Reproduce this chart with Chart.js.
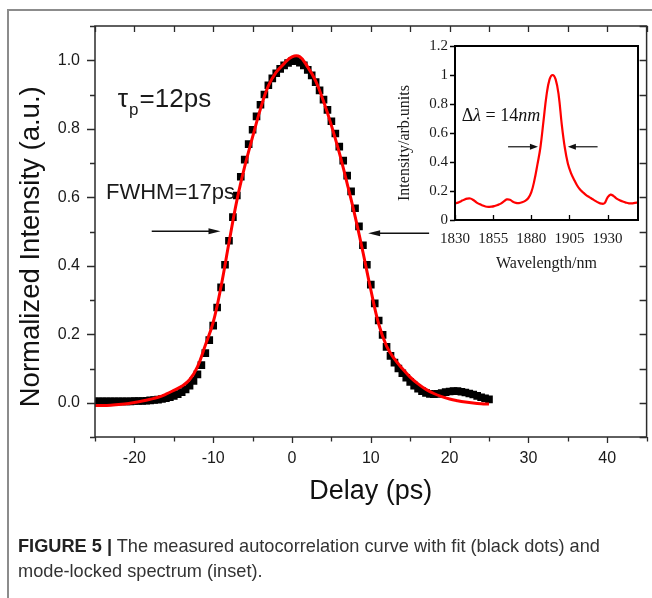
<!DOCTYPE html>
<html><head><meta charset="utf-8">
<script src="https://cdn.jsdelivr.net/npm/chart.js@4.4.1/dist/chart.umd.min.js"></script>
<style>
html,body{margin:0;padding:0;background:#fff;width:652px;height:598px;overflow:hidden;}
#frame{position:absolute;left:7px;top:9px;width:700px;height:700px;border-left:2px solid #8c8c8c;border-top:2px solid #8c8c8c;}
#main{position:absolute;left:0;top:0;}
#inset{position:absolute;left:380px;top:30px;}
#caption{position:absolute;left:18px;top:534px;font-family:"Liberation Sans",Arial,sans-serif;font-size:18.2px;line-height:25px;color:#333;white-space:nowrap;}
#caption b{color:#222;}
</style></head><body>
<div id="frame"></div>
<canvas id="main" width="652" height="598"></canvas>
<canvas id="inset" width="270" height="250"></canvas>
<div id="caption"><b>FIGURE 5 |</b> The measured autocorrelation curve with fit (black dots) and<br>mode-locked spectrum (inset).</div>
<script>
// ---------- data: autocorrelation (black squares) ----------
const delay = [
 -25,-24.5,-24,-23.5,-23,-22.5,-22,-21.5,-21,-20.5,
 -20,-19.5,-19,-18.5,-18,-17.5,-17,-16.5,-16,-15.5,
 -15,-14.5,-14,-13.5,-13,-12.5,-12,-11.5,-11,-10.5,
 -10,-9.5,-9,-8.5,-8,-7.5,-7,-6.5,-6,-5.5,
 -5,-4.5,-4,-3.5,-3,-2.5,-2,-1.5,-1,-0.5,
 0,0.5,1,1.5,2,2.5,3,3.5,4,4.5,
 5,5.5,6,6.5,7,7.5,8,8.5,9,9.5,
 10,10.5,11,11.5,12,12.5,13,13.5,14,14.5,
 15,15.5,16,16.5,17,17.5,18,18.5,19,19.5,
 20,20.5,21,21.5,22,22.5,23,23.5,24,24.5,25
];
const autocorr = [
 0.004,0.004,0.004,0.004,0.004,0.004,0.004,0.004,0.004,0.004,
 0.005,0.005,0.005,0.006,0.007,0.008,0.009,0.011,0.013,0.016,
 0.020,0.025,0.031,0.039,0.050,0.064,0.083,0.110,0.145,0.183,
 0.225,0.278,0.337,0.403,0.473,0.542,0.605,0.660,0.710,0.755,
 0.797,0.836,0.870,0.900,0.927,0.947,0.962,0.975,0.985,0.992,
 0.997,0.998,0.993,0.985,0.972,0.956,0.936,0.912,0.885,0.855,
 0.822,0.786,0.748,0.707,0.663,0.617,0.568,0.515,0.460,0.403,
 0.345,0.290,0.240,0.198,0.163,0.137,0.117,0.100,0.086,0.073,
 0.061,0.050,0.041,0.034,0.029,0.026,0.025,0.026,0.028,0.031,
 0.033,0.034,0.034,0.032,0.030,0.027,0.024,0.020,0.016,0.013,0.010
];
// ---------- fit (red line) ----------
const fitDelay = [
 -25,-24,-23,-22,-21,-20,-19,-18,-17,-16,-15,-14,-13,-12,-11,-10,-9,-8,-7,-6,-5,-4,-3,-2,-1,
 0,1,2,3,4,5,6,7,8,9,10,11,12,13,14,15,16,17,18,19,20,21,22,23,24,25
];
const fitValues = [
 -0.008,-0.008,-0.007,-0.005,-0.003,0.001,0.005,0.010,0.016,0.025,0.036,0.048,0.067,0.105,0.168,0.235,0.340,0.467,0.590,0.690,0.776,0.858,0.925,0.965,0.990,
 1.010,1.010,0.980,0.940,0.880,0.810,0.730,0.640,0.545,0.440,0.330,0.230,0.165,0.128,0.100,0.075,0.055,0.039,0.027,0.018,0.011,0.006,0.002,-0.001,-0.003,-0.004
];
const xTicks = [-20,-10,0,10,20,30,40];
const yTicks = [0.0,0.2,0.4,0.6,0.8,1.0];

// ---------- inset: spectrum ----------
const wavelength = [
 1830,1832,1834,1836,1838,1840,1842,1844,1846,1848,
 1850,1852,1854,1856,1858,1860,1862,1864,1866,1868,
 1870,1872,1874,1876,1878,1880,1882,1884,1886,1888,
 1890,1892,1894,1896,1898,1900,1902,1904,1906,1908,
 1910,1912,1914,1916,1918,1920,1922,1924,1926,1928,
 1930,1932,1934,1936,1938,1940,1942,1944,1946,1948,1950
];
const spectrum = [
 0.115,0.120,0.130,0.140,0.147,0.148,0.138,0.122,0.110,0.100,
 0.093,0.091,0.092,0.097,0.104,0.113,0.128,0.142,0.140,0.126,
 0.118,0.117,0.122,0.132,0.150,0.190,0.270,0.380,0.500,0.680,
 0.860,0.970,1.000,0.970,0.860,0.660,0.500,0.390,0.325,0.280,
 0.240,0.210,0.190,0.172,0.158,0.145,0.132,0.120,0.113,0.115,
 0.155,0.175,0.165,0.148,0.136,0.127,0.120,0.115,0.115,0.118,0.120
];
const insetXTicks = [1830,1855,1880,1905,1930];
const insetYTicks = [0,0.2,0.4,0.6,0.8,1,1.2];
const insetYLabels = ['0','0.2','0.4','0.6','0.8','1','1.2'];

// ---------- styles / annotation anchors ----------
const FONT = '"Liberation Sans", Arial, sans-serif';
const SERIF = '"Liberation Serif", "Times New Roman", serif';
const RED = '#ff0000';

function arrow(ctx, x1, y1, x2, y2, len, half) {
  const ang = Math.atan2(y2 - y1, x2 - x1);
  const bx = x2 - len * Math.cos(ang), by = y2 - len * Math.sin(ang);
  ctx.beginPath(); ctx.moveTo(x1, y1); ctx.lineTo(bx + 1 * Math.cos(ang), by + 1 * Math.sin(ang)); ctx.stroke();
  ctx.beginPath(); ctx.moveTo(x2, y2);
  ctx.lineTo(bx - half * Math.sin(ang), by + half * Math.cos(ang));
  ctx.lineTo(bx + half * Math.sin(ang), by - half * Math.cos(ang));
  ctx.closePath(); ctx.fill();
}

const mainDecor = {
  id: 'mainDecor',
  afterDraw(chart) {
    const {ctx, chartArea: a} = chart;
    const xs = chart.scales.x, ys = chart.scales.y;
    ctx.save();
    ctx.strokeStyle = '#2b2b2b'; ctx.lineWidth = 1.5;
    ctx.strokeRect(a.left, a.top, a.right - a.left, a.bottom - a.top);
    ctx.lineWidth = 1.3;
    ctx.beginPath();
    for (let i = 0; i <= 14; i++) {
      const v = xs.min + i * 5;
      const p = Math.round(xs.getPixelForValue(v)) + 0.5;
      const major = (v % 10 === 0);
      ctx.moveTo(p, a.bottom); ctx.lineTo(p, a.bottom + (major ? 6 : 4.5));
      ctx.moveTo(p, a.top); ctx.lineTo(p, a.top + 6);
    }
    for (let i = 0; i <= 12; i++) {
      const v = ys.min + i * 0.1;
      const p = Math.round(ys.getPixelForValue(v)) + 0.5;
      const major = (i % 2 === 1);
      ctx.moveTo(a.left, p); ctx.lineTo(a.left - (major ? 8 : 5), p);
      ctx.moveTo(a.right, p); ctx.lineTo(a.right - 7, p);
    }
    ctx.stroke();
    // arrows
    ctx.strokeStyle = '#111'; ctx.fillStyle = '#111'; ctx.lineWidth = 1.5;
    arrow(ctx, xs.getPixelForValue(-17.8), ys.getPixelForValue(0.501), xs.getPixelForValue(-9.07), ys.getPixelForValue(0.501), 12, 3);
    arrow(ctx, xs.getPixelForValue(17.4), ys.getPixelForValue(0.495), xs.getPixelForValue(9.66), ys.getPixelForValue(0.495), 12, 3);
    // texts
    ctx.fillStyle = '#1a1a1a'; ctx.textBaseline = 'alphabetic'; ctx.textAlign = 'left';
    let tx = xs.getPixelForValue(-22.1), ty = ys.getPixelForValue(0.863);
    ctx.font = '26px ' + FONT;
    ctx.fillText('τ', tx, ty);
    let w = ctx.measureText('τ').width;
    ctx.font = '17px ' + FONT;
    ctx.fillText('p', tx + w + 1, ty + 8);
    const wp = ctx.measureText('p').width;
    ctx.font = '26px ' + FONT;
    ctx.fillText('=12ps', tx + w + wp + 2, ty);
    ctx.font = '22px ' + FONT;
    ctx.fillText('FWHM=17ps', xs.getPixelForValue(-23.6), ys.getPixelForValue(0.594));
    ctx.restore();
  }
};

new Chart(document.getElementById('main'), {
  type: 'scatter',
  data: {
    datasets: [
      {
        label: 'Fit', order: 0,
        data: fitDelay.map((x, i) => ({x, y: fitValues[i]})),
        showLine: true, borderColor: RED, borderWidth: 3, pointRadius: 0, tension: 0.4, fill: false
      },
      {
        label: 'Autocorrelation', order: 1,
        data: delay.map((x, i) => ({x, y: autocorr[i]})),
        showLine: false, pointStyle: 'rect', pointRadius: 5.4, pointBorderWidth: 0,
        pointBackgroundColor: '#000', backgroundColor: '#000', borderColor: '#000'
      }
    ]
  },
  options: {
    responsive: false, animation: false, devicePixelRatio: 1,
    layout: {padding: {left: 0, right: 2, top: 26, bottom: 0}},
    plugins: {legend: {display: false}, tooltip: {enabled: false}},
    scales: {
      x: {
        type: 'linear', position: 'bottom', min: -25, max: 45,
        afterBuildTicks: s => { s.ticks = xTicks.map(v => ({value: v})); },
        afterFit: s => { s.height = 161; },
        grid: {display: false, drawTicks: false}, border: {display: false},
        ticks: {padding: 12, color: '#1a1a1a', font: {family: FONT, size: 16}, maxRotation: 0, autoSkip: false,
                callback: v => String(v)},
        title: {display: true, text: 'Delay (ps)', color: '#111', font: {family: FONT, size: 27}, padding: {top: 0, bottom: 90}}
      },
      y: {
        type: 'linear', min: -0.1, max: 1.1,
        afterBuildTicks: s => { s.ticks = yTicks.map(v => ({value: v})); },
        afterFit: s => { s.width = 95; },
        grid: {display: false, drawTicks: false}, border: {display: false},
        ticks: {padding: 15, color: '#1a1a1a', font: {family: FONT, size: 16}, autoSkip: false,
                callback: v => Number(v).toFixed(1)},
        title: {display: true, text: 'Normalized Intensity (a.u.)    ', color: '#111', font: {family: FONT, size: 27.5}, padding: {top: 15, bottom: 0}}
      }
    }
  },
  plugins: [mainDecor]
});

const insetDecor = {
  id: 'insetDecor',
  afterDraw(chart) {
    const {ctx, chartArea: a} = chart;
    const xs = chart.scales.x, ys = chart.scales.y;
    ctx.save();
    ctx.strokeStyle = '#000'; ctx.lineWidth = 2;
    ctx.strokeRect(a.left, a.top, a.right - a.left, a.bottom - a.top);
    ctx.lineWidth = 1.3;
    ctx.beginPath();
    insetYTicks.forEach(v => { const p = Math.round(ys.getPixelForValue(v)) + 0.5; ctx.moveTo(a.left, p); ctx.lineTo(a.left - 5, p); });
    insetXTicks.forEach(v => { const p = Math.round(xs.getPixelForValue(v)) + 0.5; ctx.moveTo(p, a.bottom); ctx.lineTo(p, a.bottom - 5); });
    ctx.stroke();
    ctx.strokeStyle = '#111'; ctx.fillStyle = '#111'; ctx.lineWidth = 1.2;
    arrow(ctx, xs.getPixelForValue(1864.8), ys.getPixelForValue(0.505), xs.getPixelForValue(1884.4), ys.getPixelForValue(0.505), 8, 3);
    arrow(ctx, xs.getPixelForValue(1923.5), ys.getPixelForValue(0.505), xs.getPixelForValue(1904.0), ys.getPixelForValue(0.505), 8, 3);
    // Δλ = 14nm
    let tx = xs.getPixelForValue(1834.4); const ty = ys.getPixelForValue(0.682);
    ctx.fillStyle = '#111'; ctx.textBaseline = 'alphabetic'; ctx.textAlign = 'left';
    const parts = [['Δ', ''], ['λ', 'italic '], [' = ', ''], ['14', ''], ['nm', 'italic ']];
    parts.forEach(([t, st]) => { ctx.font = st + '18px ' + SERIF; ctx.fillText(t, tx, ty); tx += ctx.measureText(t).width; });
    ctx.restore();
  }
};

new Chart(document.getElementById('inset'), {
  type: 'scatter',
  data: {
    datasets: [{
      label: 'Spectrum',
      data: wavelength.map((x, i) => ({x, y: spectrum[i]})),
      showLine: true, borderColor: RED, borderWidth: 2.2, pointRadius: 0, tension: 0.4, fill: false
    }]
  },
  options: {
    responsive: false, animation: false, devicePixelRatio: 1,
    layout: {padding: {left: 0, right: 12, top: 14, bottom: 0}},
    plugins: {legend: {display: false}, tooltip: {enabled: false}},
    scales: {
      x: {
        type: 'linear', position: 'bottom', min: 1830, max: 1950,
        afterBuildTicks: s => { s.ticks = insetXTicks.map(v => ({value: v})); },
        afterFit: s => { s.height = 60; },
        grid: {display: false, drawTicks: false}, border: {display: false},
        ticks: {padding: 10, color: '#1a1a1a', font: {family: SERIF, size: 15}, maxRotation: 0, autoSkip: false,
                callback: v => String(v)},
        title: {display: true, text: 'Wavelength/nm', color: '#1a1a1a', font: {family: SERIF, size: 16}, padding: {top: 0, bottom: 7}}
      },
      y: {
        type: 'linear', min: 0, max: 1.2,
        afterBuildTicks: s => { s.ticks = insetYTicks.map(v => ({value: v})); },
        afterFit: s => { s.width = 75; },
        grid: {display: false, drawTicks: false}, border: {display: false},
        ticks: {padding: 7, color: '#1a1a1a', font: {family: SERIF, size: 15}, autoSkip: false,
                callback: (v, i) => insetYLabels[i]},
        title: {display: true, text: 'Intensity/arb.units     ', color: '#1a1a1a', font: {family: SERIF, size: 16}, padding: {top: 15, bottom: 0}}
      }
    }
  },
  plugins: [insetDecor]
});
</script>
</body></html>
